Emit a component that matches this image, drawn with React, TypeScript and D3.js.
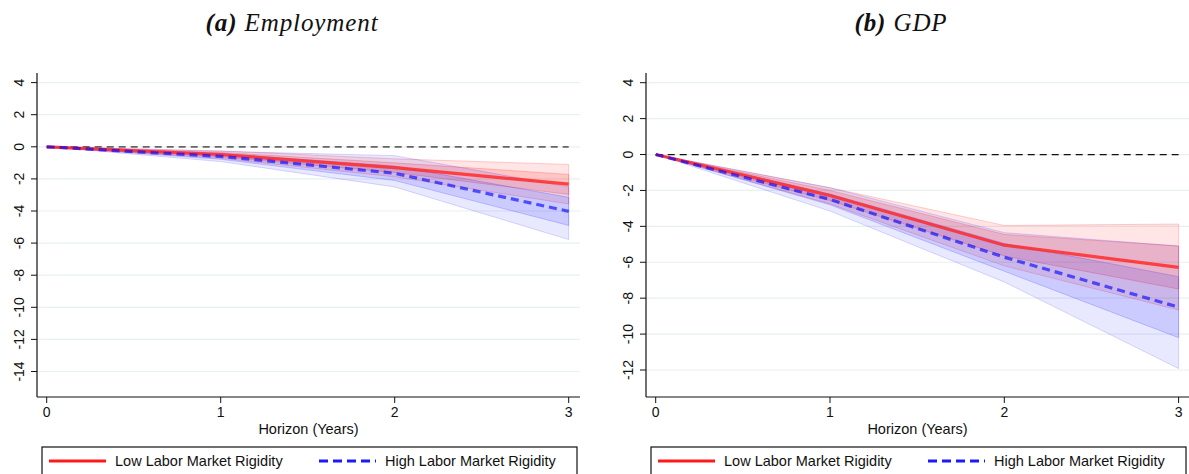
import React from "react";
import * as d3 from "d3";

// Horizon in years
const horizon = [0, 1, 2, 3];

// (a) Employment: point estimates and confidence bands
const empLow = [0, -0.48, -1.3, -2.33];
const empLowInnerHi = [0, -0.35, -1.0, -1.72];
const empLowInnerLo = [0, -0.62, -1.6, -2.97];
const empLowOuterHi = [0, -0.25, -0.75, -1.1];
const empLowOuterLo = [0, -0.72, -1.87, -3.56];
const empHigh = [0, -0.6, -1.65, -4.02];
const empHighInnerHi = [0, -0.42, -1.2, -3.15];
const empHighInnerLo = [0, -0.78, -2.1, -4.9];
const empHighOuterHi = [0, -0.28, -0.55, -2.5];
const empHighOuterLo = [0, -0.92, -2.5, -5.78];

// (b) GDP: point estimates and confidence bands
const gdpLow = [0, -2.28, -5.05, -6.28];
const gdpLowInnerHi = [0, -2.0, -4.45, -5.09];
const gdpLowInnerLo = [0, -2.56, -5.65, -7.49];
const gdpLowOuterHi = [0, -1.85, -3.95, -3.87];
const gdpLowOuterLo = [0, -2.75, -6.2, -8.66];
const gdpHigh = [0, -2.5, -5.72, -8.5];
const gdpHighInnerHi = [0, -2.2, -4.95, -6.8];
const gdpHighInnerLo = [0, -2.8, -6.5, -10.2];
const gdpHighOuterHi = [0, -1.85, -4.35, -5.1];
const gdpHighOuterLo = [0, -3.15, -7.1, -11.92];

const empTicks = [4, 2, 0, -2, -4, -6, -8, -10, -12, -14];
const gdpTicks = [4, 2, 0, -2, -4, -6, -8, -10, -12];
const xTicks = [0, 1, 2, 3];

const legendLabels = ["Low Labor Market Rigidity", "High Labor Market Rigidity"];
const xTitle = "Horizon (Years)";

const SANS = "'Liberation Sans', Arial, Helvetica, sans-serif";
const SERIF = "'Liberation Serif', 'Times New Roman', serif";

type Series = {
  est: number[];
  innerHi: number[];
  innerLo: number[];
  outerHi: number[];
  outerLo: number[];
};

type PanelCfg = {
  axisX: number;
  plotRight: number;
  top: number;
  bottom: number;
  xRange: [number, number];
  yRange: [number, number];
  ticks: number[];
  zeroColor: string;
  zeroWidth: number;
  tickLabelX: number;
  title: [string, string];
  titleX: number;
};

function Panel({ cfg, low, high }: { cfg: PanelCfg; low: Series; high: Series }) {
  const x = d3.scaleLinear().domain([0, 3]).range(cfg.xRange);
  const y = d3
    .scaleLinear()
    .domain([cfg.ticks[cfg.ticks.length - 1], cfg.ticks[0]])
    .range(cfg.yRange);

  const band = (hi: number[], lo: number[]) =>
    d3
      .area<number>()
      .x((d) => x(d))
      .y0((_, i) => y(lo[i]))
      .y1((_, i) => y(hi[i]))(horizon) || "";

  const line = (v: number[]) =>
    d3
      .line<number>()
      .x((d) => x(d))
      .y((_, i) => y(v[i]))(horizon) || "";

  const midX = (cfg.axisX + cfg.plotRight) / 2;
  const legX = cfg.axisX + 5;
  const legY = 447;

  return (
    <g>
      {/* title */}
      <text
        x={cfg.titleX}
        y={31}
        textAnchor="middle"
        fontFamily={SERIF}
        fontStyle="italic"
        fontSize={25}
        letterSpacing={0.9}
        fill="#111"
      >
        <tspan fontWeight="bold">{cfg.title[0]}</tspan>
        <tspan> {cfg.title[1]}</tspan>
      </text>

      {/* horizontal grid */}
      {cfg.ticks.map((t) => (
        <line
          key={"g" + t}
          x1={cfg.axisX}
          x2={cfg.plotRight}
          y1={y(t)}
          y2={y(t)}
          stroke="#e8f0f0"
          strokeWidth={1.2}
        />
      ))}

      {/* zero reference */}
      <line
        x1={x(0)}
        x2={x(3)}
        y1={y(0)}
        y2={y(0)}
        stroke={cfg.zeroColor}
        strokeWidth={cfg.zeroWidth}
        strokeDasharray="7,5"
      />

      {/* confidence bands */}
      <path d={band(low.outerHi, low.outerLo)} fill="rgba(255,0,0,0.1)" stroke="rgba(255,0,0,0.18)" strokeWidth={1} />
      <path d={band(low.innerHi, low.innerLo)} fill="rgba(255,0,0,0.14)" stroke="rgba(255,0,0,0.2)" strokeWidth={1} />
      <path d={band(high.outerHi, high.outerLo)} fill="rgba(0,0,255,0.09)" stroke="rgba(0,0,255,0.15)" strokeWidth={1} />
      <path d={band(high.innerHi, high.innerLo)} fill="rgba(0,0,255,0.12)" stroke="rgba(0,0,255,0.18)" strokeWidth={1} />

      {/* estimates */}
      <path d={line(low.est)} fill="none" stroke="#ff2a2a" strokeOpacity={0.85} strokeWidth={3.2} />
      <path
        d={line(high.est)}
        fill="none"
        stroke="#0000ff"
        strokeOpacity={0.62}
        strokeWidth={3.2}
        strokeDasharray="8,5"
      />

      {/* y axis */}
      <line x1={cfg.axisX} x2={cfg.axisX} y1={cfg.top} y2={cfg.bottom} stroke="#111" strokeWidth={1.2} />
      {cfg.ticks.map((t) => (
        <g key={"y" + t}>
          <line x1={cfg.axisX - 6} x2={cfg.axisX} y1={y(t)} y2={y(t)} stroke="#111" strokeWidth={1} />
          <text
            transform={`translate(${cfg.tickLabelX},${y(t)}) rotate(-90)`}
            textAnchor="middle"
            dominantBaseline="central"
            fontFamily={SANS}
            fontSize={14}
            fill="#111"
          >
            {t}
          </text>
        </g>
      ))}

      {/* x axis */}
      <line x1={cfg.axisX} x2={cfg.plotRight} y1={cfg.bottom} y2={cfg.bottom} stroke="#111" strokeWidth={1.2} />
      {xTicks.map((t) => (
        <g key={"x" + t}>
          <line x1={x(t)} x2={x(t)} y1={cfg.bottom} y2={cfg.bottom + 6} stroke="#111" strokeWidth={1} />
          <text x={x(t)} y={417} textAnchor="middle" fontFamily={SANS} fontSize={14} fill="#111">
            {t}
          </text>
        </g>
      ))}
      <text x={midX} y={434} textAnchor="middle" fontFamily={SANS} fontSize={14.5} fill="#111">
        {xTitle}
      </text>

      {/* legend */}
      <rect x={legX} y={legY} width={535} height={40} fill="#fff" stroke="#111" strokeWidth={1.2} />
      <line x1={legX + 7} x2={legX + 64} y1={legY + 14} y2={legY + 14} stroke="#ff1a1a" strokeWidth={3.2} />
      <text x={legX + 73} y={legY + 19} fontFamily={SANS} fontSize={14.5} fill="#111">
        {legendLabels[0]}
      </text>
      <line
        x1={legX + 277}
        x2={legX + 334}
        y1={legY + 14}
        y2={legY + 14}
        stroke="#1a1aff"
        strokeWidth={3.2}
        strokeDasharray="9,5"
      />
      <text x={legX + 343} y={legY + 19} fontFamily={SANS} fontSize={14.5} fill="#111">
        {legendLabels[1]}
      </text>
    </g>
  );
}

const leftCfg: PanelCfg = {
  axisX: 37,
  plotRight: 580,
  top: 73,
  bottom: 397,
  xRange: [46.7, 568.7],
  yRange: [371.5, 82.6],
  ticks: empTicks,
  zeroColor: "#666",
  zeroWidth: 1.8,
  tickLabelX: 19,
  title: ["(a)", "Employment"],
  titleX: 292,
};

const rightCfg: PanelCfg = {
  axisX: 646,
  plotRight: 1189,
  top: 73,
  bottom: 397,
  xRange: [655.7, 1178.6],
  yRange: [370, 82.7],
  ticks: gdpTicks,
  zeroColor: "#111",
  zeroWidth: 1.2,
  tickLabelX: 628,
  title: ["(b)", "GDP"],
  titleX: 901,
};

export default function App() {
  const empL: Series = { est: empLow, innerHi: empLowInnerHi, innerLo: empLowInnerLo, outerHi: empLowOuterHi, outerLo: empLowOuterLo };
  const empH: Series = { est: empHigh, innerHi: empHighInnerHi, innerLo: empHighInnerLo, outerHi: empHighOuterHi, outerLo: empHighOuterLo };
  const gdpL: Series = { est: gdpLow, innerHi: gdpLowInnerHi, innerLo: gdpLowInnerLo, outerHi: gdpLowOuterHi, outerLo: gdpLowOuterLo };
  const gdpH: Series = { est: gdpHigh, innerHi: gdpHighInnerHi, innerLo: gdpHighInnerLo, outerHi: gdpHighOuterHi, outerLo: gdpHighOuterLo };
  return (
    <svg
      width={1189}
      height={474}
      style={{ position: "absolute", left: 0, top: 0, background: "#fff" }}
    >
      <rect width={1189} height={474} fill="#fff" />
      <Panel cfg={leftCfg} low={empL} high={empH} />
      <Panel cfg={rightCfg} low={gdpL} high={gdpH} />
    </svg>
  );
}
